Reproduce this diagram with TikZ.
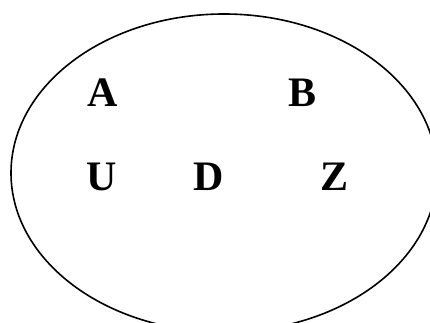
\documentclass[tikz,border=0pt]{standalone}
\usepackage{fontspec}
\setmainfont{Liberation Serif}
\usepackage{tikz}
\usetikzlibrary{positioning,shapes.geometric}

\begin{document}
\begin{tikzpicture}[
x=1pt, y=1pt,
elem/.style={anchor=base, inner sep=0pt, font=\bfseries\fontsize{42}{42}\selectfont},
universe/.style={draw, ellipse, line width=1.6pt, inner sep=0pt, minimum width=426pt, minimum height=318pt}
]
\useasboundingbox (0,0) rectangle (430,323);
\node[universe] (set) at (224,150) {};
\node[elem] (a) at (102.5,216) {A};
\node[elem] (b) at (302.5,216) {B};
\node[elem] (u) at (102,132.5) {U};
\node[elem] (d) at (208.5,132.5) {D};
\node[elem] (z) at (334,132.5) {Z};
\end{tikzpicture}
\end{document}
